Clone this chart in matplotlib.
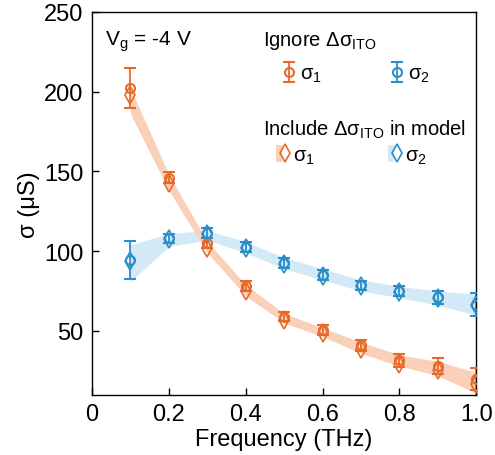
import matplotlib
matplotlib.use('Agg')
import matplotlib.pyplot as plt
from matplotlib.patches import Patch
from matplotlib.legend_handler import HandlerTuple

plt.rcParams['font.family'] = ['Liberation Sans', 'DejaVu Sans']
plt.rcParams['font.size'] = 17

# frequency (THz)
freq = [0.1, 0.2, 0.3, 0.4, 0.5, 0.6, 0.7, 0.8, 0.9, 1.0]

# ignore delta sigma_ITO: values and error bars (uS)
s1_ignore = [202, 146, 105, 78, 59, 50.5, 41, 31.5, 28, 20]
s1_ignore_err = [12.5, 3.5, 3, 3, 3, 3, 3.5, 4, 5, 7]
s2_ignore = [94.5, 108, 111.5, 102.5, 92.5, 85, 78.5, 75, 71, 66.5]
s2_ignore_err = [12, 3, 3, 3, 3, 3, 3, 3, 4, 7]

# include delta sigma_ITO in model: values and shaded bands (uS)
s1_incl = [198, 143, 102, 75, 57, 48.5, 38.5, 29.5, 25.5, 17]
s1_lo = [186, 138, 99, 72, 55, 46.5, 36, 28, 22, 11]
s1_hi = [202, 148, 106, 79, 61, 52, 43, 35, 31, 24]
s2_incl = [94, 107.5, 111, 102, 92, 84.5, 78, 74.5, 70.5, 66]
s2_lo = [81, 103, 107, 99, 89, 82, 75, 71, 66, 60]
s2_hi = [104, 111, 113, 106, 96, 89, 82, 78, 75, 73]

orange = '#e8692a'
blue = '#2a8ec8'
orange_band = '#fad0b8'
blue_band = '#d3e9f6'
leg_fs = 14.5

fig = plt.figure(figsize=(4.95, 4.56), dpi=100)
ax = fig.add_axes([0.186, 0.132, 0.776, 0.840])

ax.fill_between(freq, s2_lo, s2_hi, color=blue_band, lw=0, zorder=1)
ax.fill_between(freq, s1_lo, s1_hi, color=orange_band, lw=0, zorder=1.5)

d1, = ax.plot(freq, s1_incl, 'd', ms=9, mfc='none', mec=orange, mew=1.2, zorder=3)
d2, = ax.plot(freq, s2_incl, 'd', ms=9, mfc='none', mec=blue, mew=1.2, zorder=3)

eb1 = ax.errorbar(freq, s1_ignore, yerr=s1_ignore_err, fmt='o', ms=6.5, mfc='none',
                  mec=orange, mew=1.5, ecolor=orange, elinewidth=1.3, capsize=4,
                  capthick=1.3, zorder=4)
eb2 = ax.errorbar(freq, s2_ignore, yerr=s2_ignore_err, fmt='o', ms=6.5, mfc='none',
                  mec=blue, mew=1.5, ecolor=blue, elinewidth=1.3, capsize=4,
                  capthick=1.3, zorder=4)

ax.set_xlim(0, 1.0)
ax.set_ylim(10, 250)
ax.set_xticks([0, 0.2, 0.4, 0.6, 0.8, 1.0])
ax.set_xticklabels(['0', '0.2', '0.4', '0.6', '0.8', '1.0'])
ax.set_yticks([50, 100, 150, 200, 250])
ax.tick_params(direction='in', length=5, width=1, pad=6)
for s in ax.spines.values():
    s.set_linewidth(1)
ax.set_xlabel('Frequency (THz)', labelpad=2)
ax.set_ylabel('σ (μS)', labelpad=3)

ax.text(0.034, 0.916, r'V$_\mathregular{g}$ = -4 V', transform=ax.transAxes,
        ha='left', va='baseline', fontsize=15)

# legend blocks: titles as text, rows as legends
ax.text(0.445, 0.925, r'Ignore Δσ$_\mathregular{ITO}$', transform=ax.transAxes,
        ha='left', va='center', fontsize=leg_fs)
ax.text(0.445, 0.694, r'Include Δσ$_\mathregular{ITO}$ in model', transform=ax.transAxes,
        ha='left', va='center', fontsize=leg_fs)

leg1 = ax.legend([eb1, eb2], [r'σ$_\mathregular{1}$', r'σ$_\mathregular{2}$'], ncol=2,
                 fontsize=leg_fs,
                 loc='center left', bbox_to_anchor=(0.492, 0.838), frameon=False,
                 handlelength=0.8, handletextpad=0.15, columnspacing=3.3,
                 borderpad=0, borderaxespad=0)
ax.add_artist(leg1)

p1 = Patch(color=orange_band, lw=0)
p2 = Patch(color=blue_band, lw=0)
ax.legend([(p1, d1), (p2, d2)], [r'σ$_\mathregular{1}$', r'σ$_\mathregular{2}$'], ncol=2,
          fontsize=leg_fs,
          handler_map={tuple: HandlerTuple(ndivide=None, pad=0)},
          loc='center left', bbox_to_anchor=(0.479, 0.625), frameon=False,
          handlelength=0.6, handleheight=0.9, handletextpad=0.25, columnspacing=3.6,
          borderpad=0, borderaxespad=0)

fig.savefig('out.png', dpi=100)
